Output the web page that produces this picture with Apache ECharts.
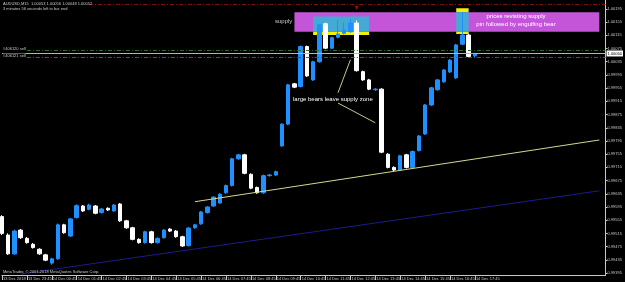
<!DOCTYPE html>
<html>
<head>
<meta charset="utf-8">
<script src="https://cdn.jsdelivr.net/npm/echarts@6/dist/echarts.min.js"></script>
<style>
html,body{margin:0;padding:0;background:#000;}
#chart{width:625px;height:282px;}
</style>
</head>
<body>
<div id="chart"></div>
<script>
// AUDUSD M15 candles: [open, close, low, high]
var candles = [
    [0.99566, 0.99515, 0.99510, 0.99570],
    [0.99510, 0.99453, 0.99450, 0.99515],
    [0.99453, 0.99522, 0.99450, 0.99526],
    [0.99525, 0.99502, 0.99498, 0.99528],
    [0.99500, 0.99487, 0.99484, 0.99504],
    [0.99482, 0.99472, 0.99469, 0.99486],
    [0.99467, 0.99453, 0.99450, 0.99470],
    [0.99450, 0.99434, 0.99431, 0.99453],
    [0.99425, 0.99438, 0.99420, 0.99441],
    [0.99438, 0.99541, 0.99435, 0.99545],
    [0.99541, 0.99517, 0.99514, 0.99544],
    [0.99507, 0.99559, 0.99504, 0.99562],
    [0.99563, 0.99599, 0.99560, 0.99603],
    [0.99598, 0.99583, 0.99580, 0.99601],
    [0.99588, 0.99601, 0.99585, 0.99605],
    [0.99598, 0.99576, 0.99573, 0.99601],
    [0.99578, 0.99589, 0.99575, 0.99592],
    [0.99591, 0.99586, 0.99583, 0.99594],
    [0.99583, 0.99601, 0.99580, 0.99604],
    [0.99604, 0.99553, 0.99550, 0.99607],
    [0.99553, 0.99532, 0.99529, 0.99556],
    [0.99532, 0.99497, 0.99494, 0.99535],
    [0.99497, 0.99487, 0.99484, 0.99500],
    [0.99487, 0.99520, 0.99484, 0.99523],
    [0.99520, 0.99487, 0.99484, 0.99523],
    [0.99487, 0.99500, 0.99484, 0.99503],
    [0.99502, 0.99525, 0.99499, 0.99528],
    [0.99528, 0.99522, 0.99519, 0.99531],
    [0.99522, 0.99505, 0.99502, 0.99525],
    [0.99505, 0.99477, 0.99474, 0.99508],
    [0.99478, 0.99531, 0.99475, 0.99534],
    [0.99532, 0.99541, 0.99529, 0.99544],
    [0.99544, 0.99580, 0.99541, 0.99583],
    [0.99578, 0.99595, 0.99575, 0.99598],
    [0.99598, 0.99625, 0.99595, 0.99628],
    [0.99607, 0.99634, 0.99604, 0.99637],
    [0.99638, 0.99660, 0.99635, 0.99663],
    [0.99660, 0.99741, 0.99657, 0.99744],
    [0.99741, 0.99753, 0.99738, 0.99756],
    [0.99753, 0.99697, 0.99694, 0.99756],
    [0.99694, 0.99652, 0.99649, 0.99697],
    [0.99654, 0.99638, 0.99635, 0.99657],
    [0.99638, 0.99690, 0.99635, 0.99693],
    [0.99690, 0.99692, 0.99687, 0.99695],
    [0.99692, 0.99702, 0.99689, 0.99705],
    [0.99780, 0.99846, 0.99777, 0.99849],
    [0.99846, 0.99965, 0.99843, 0.99968],
    [0.99968, 0.99958, 0.99955, 0.99971],
    [0.99960, 1.00081, 0.99957, 1.00084],
    [1.00081, 0.99992, 0.99989, 1.00084],
    [0.99980, 1.00035, 0.99977, 1.00038],
    [1.00035, 1.00147, 1.00032, 1.00150],
    [1.00150, 1.00076, 1.00073, 1.00153],
    [1.00076, 1.00108, 1.00073, 1.00111],
    [1.00109, 1.00119, 1.00106, 1.00162],
    [1.00121, 1.00131, 1.00118, 1.00154],
    [1.00126, 1.00152, 1.00123, 1.00164],
    [1.00152, 1.00008, 1.00005, 1.00160],
    [1.00005, 0.99980, 0.99977, 1.00008],
    [0.99980, 0.99952, 0.99949, 0.99983],
    [0.99950, 0.99952, 0.99947, 0.99955],
    [0.99952, 0.99761, 0.99758, 0.99955],
    [0.99755, 0.99715, 0.99712, 0.99758],
    [0.99715, 0.99707, 0.99704, 0.99718],
    [0.99707, 0.99750, 0.99704, 0.99753],
    [0.99753, 0.99715, 0.99712, 0.99756],
    [0.99715, 0.99763, 0.99712, 0.99766],
    [0.99766, 0.99810, 0.99763, 0.99813],
    [0.99816, 0.99904, 0.99813, 0.99907],
    [0.99904, 0.99956, 0.99901, 0.99959],
    [0.99950, 0.99980, 0.99947, 0.99983],
    [0.99974, 1.00010, 0.99971, 1.00013],
    [1.00004, 1.00040, 1.00001, 1.00043],
    [0.99986, 1.00086, 0.99983, 1.00089],
    [1.00088, 1.00116, 1.00085, 1.00186],
    [1.00116, 1.00051, 1.00048, 1.00120],
    [1.00053, 1.00060, 1.00048, 1.00062]
];

// time scale labels, one for every 4 bars (1 hour)
var timeLabels = ['13 Dec 2018', '13 Dec 23:45', '14 Dec 00:45', '14 Dec 01:45', '14 Dec 02:45',
    '14 Dec 03:45', '14 Dec 04:45', '14 Dec 05:45', '14 Dec 06:45', '14 Dec 07:45', '14 Dec 08:45',
    '14 Dec 09:45', '14 Dec 10:45', '14 Dec 11:45', '14 Dec 12:45', '14 Dec 13:45', '14 Dec 14:45',
    '14 Dec 15:45', '14 Dec 16:45', '14 Dec 17:45'];

// price scale ticks
var priceTicks = [0.99395, 0.99435, 0.99475, 0.99515, 0.99555, 0.99595, 0.99635, 0.99675, 0.99715,
    0.99755, 0.99795, 0.99835, 0.99875, 0.99915, 0.99955, 0.99995, 1.00035, 1.00075, 1.00115,
    1.00155, 1.00195];

var slotCount = 98; // bars + empty right shift
var bidPrice = 1.00060;

var categories = [];
for (var i = 0; i < slotCount; i++) {
    categories.push(String(i));
}

var chart = echarts.init(document.getElementById('chart'));

var smallFont = 'Liberation Sans';

var option = {
    backgroundColor: '#000000',
    animation: false,
    grid: {
        left: 2,
        right: 15,
        top: 0,
        bottom: 7
    },
    xAxis: {
        type: 'category',
        data: categories,
        boundaryGap: false,
        axisLine: {
            lineStyle: { color: '#c8c8c8', width: 1 }
        },
        axisTick: {
            show: true,
            length: 5,
            interval: function (idx) { return idx % 4 === 0 && idx <= 76; },
            lineStyle: { color: '#c8c8c8' }
        },
        axisLabel: {
            interval: function (idx) { return idx % 4 === 0 && idx <= 76; },
            formatter: function (val, idx) {
                return timeLabels[Math.floor(Number(val) / 4)] || '';
            },
            align: 'left',
            margin: 2,
            padding: [0, 0, 0, 1],
            color: '#c8c8c8',
            fontSize: 4,
            fontFamily: smallFont
        },
        splitLine: { show: false }
    },
    yAxis: {
        type: 'value',
        position: 'right',
        min: 0.99389,
        max: 1.00222,
        scale: true,
        axisLine: {
            show: true,
            lineStyle: { color: '#c8c8c8', width: 1 }
        },
        axisTick: {
            show: true,
            length: 2,
            customValues: priceTicks,
            lineStyle: { color: '#c8c8c8' }
        },
        axisLabel: {
            customValues: priceTicks,
            formatter: function (v) { return v.toFixed(5); },
            margin: 2,
            color: '#c8c8c8',
            fontSize: 4,
            fontFamily: smallFont
        },
        splitLine: { show: false }
    },
    series: [{
        name: 'AUDUSD',
        type: 'candlestick',
        data: candles,
        barWidth: 4,
        itemStyle: {
            color: '#1e90ff',
            color0: '#ffffff',
            borderColor: '#1e90ff',
            borderColor0: '#ffffff',
            borderWidth: 1
        },
        markArea: {
            silent: true,
            itemStyle: { opacity: 1 },
            data: [
                [{ coord: [47, 1.00185], itemStyle: { color: '#c455d8' } }, { coord: [96, 1.00126] }],
                [{ coord: [50, 1.00126], itemStyle: { color: '#f2f200' } }, { coord: [59, 1.00116] }],
                [{ coord: [50, 1.00172], itemStyle: { color: '#45a9d6' } }, { coord: [59, 1.00126] }],
                [{ coord: [73, 1.00197], itemStyle: { color: '#f2f200' } }, { coord: [75, 1.00185] }],
                [{ coord: [73, 1.00126], itemStyle: { color: '#f2f200' } }, { coord: [75, 1.00119] }],
                [{ coord: [73, 1.00185], itemStyle: { color: '#45a9d6' } }, { coord: [75, 1.00126] }]
            ]
        },
        markLine: {
            silent: true,
            symbol: ['none', 'none'],
            label: { show: false },
            data: [
                // trend lines
                [{ coord: [31, 0.99611], lineStyle: { color: '#d6d690', type: 'solid', width: 1 } }, { coord: [96, 0.99798] }],
                [{ coord: [3, 0.99392], lineStyle: { color: '#1c1c8a', type: 'solid', width: 1 } }, { coord: [96, 0.99644] }],
                // pointers from the text
                [{ coord: [54, 0.99941], lineStyle: { color: '#c8c890', type: 'solid', width: 1 } }, { coord: [56, 1.00041] }],
                [{ coord: [54, 0.99910], lineStyle: { color: '#c8c890', type: 'solid', width: 1 } }, { coord: [60, 0.99850] }],
                // level lines
                [{ coord: [14, 1.00210], lineStyle: { color: '#8a1010', type: [4, 2, 1, 2], width: 1 } }, { coord: [97, 1.00210] }],
                [{ coord: [4, 1.00069], lineStyle: { color: '#2f6e2f', type: [4, 2, 1, 2], width: 1 } }, { coord: [97, 1.00069] }],
                [{ coord: [4, 1.00049], lineStyle: { color: '#2f6e2f', type: [4, 2, 1, 2], width: 1 } }, { coord: [97, 1.00049] }],
                [{ coord: [0, bidPrice], lineStyle: { color: '#b4b4b4', type: 'solid', width: 1 } },
                 { coord: [97, bidPrice], label: { show: true, position: 'end', distance: 1, formatter: bidPrice.toFixed(5),
                     backgroundColor: '#ffffff', color: '#000000', fontSize: 4, fontFamily: smallFont, padding: [1, 1] } }]
            ]
        },
        markPoint: {
            silent: true,
            symbol: 'triangle',
            symbolSize: 4,
            symbolRotate: 180,
            itemStyle: { color: '#9a1010' },
            label: { show: false },
            data: [{ coord: [57, 1.00198] }]
        }
    }],
    graphic: [
        { type: 'text', left: 3, top: 2, z: 100,
          style: { text: 'AUDUSD,M15  1.00053 1.00056 1.00048 1.00052', fill: '#c8c8c8', font: '4px Liberation Sans' } },
        { type: 'text', left: 3, top: 6.5, z: 100,
          style: { text: '3 minutes 56 seconds left to bar end', fill: '#c8c8c8', font: '4px Liberation Sans' } },
        { type: 'text', left: 3, top: 46.5, z: 100,
          style: { text: '#406120 sell', fill: '#c8c8c8', font: '4px Liberation Sans', backgroundColor: '#000' } },
        { type: 'text', left: 3, top: 53.5, z: 100,
          style: { text: '#406121 sell', fill: '#c8c8c8', font: '4px Liberation Sans', backgroundColor: '#000' } },
        { type: 'text', left: 3, top: 270, z: 100,
          style: { text: 'MetaTrader, \u00a9 2001-2018 MetaQuotes Software Corp.', fill: '#c8c8c8', font: '4px Liberation Sans' } },
        { type: 'text', left: 275, top: 18.5, z: 100,
          style: { text: 'supply', fill: '#c8c8c8', font: '6px Liberation Sans' } },
        { type: 'text', x: 516, y: 13, z: 100,
          style: { text: 'prices revisting supply', fill: '#ffffff', font: '6px Liberation Sans', align: 'center', textAlign: 'center' } },
        { type: 'text', x: 516, y: 21, z: 100,
          style: { text: 'pin followed by engulfing bear', fill: '#ffffff', font: '6px Liberation Sans', align: 'center', textAlign: 'center' } },
        { type: 'text', left: 293, top: 96, z: 100,
          style: { text: 'large bears leave supply zone', fill: '#ffffff', font: '6px Liberation Sans' } }
    ]
};

chart.setOption(option);
</script>
</body>
</html>
